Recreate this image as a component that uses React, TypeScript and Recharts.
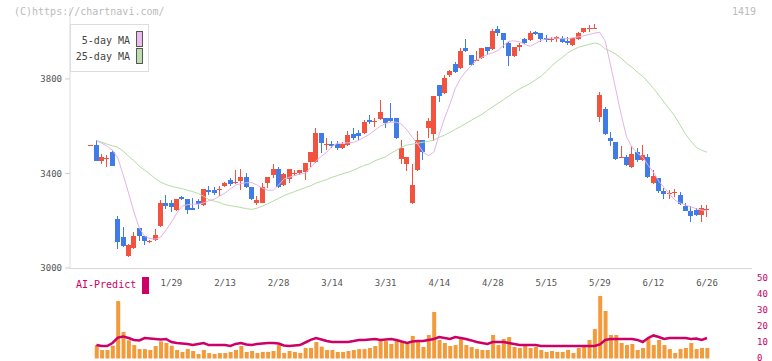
import { ComposedChart, Bar, Line, XAxis, YAxis, ReferenceLine } from "recharts";

const MONO = "'DejaVu Sans Mono', monospace";
const UP = "#f2533f";
const DOWN = "#3f7ce8";

// trading days, 2025
const dates = [
  "1/7", "1/8", "1/9", "1/10", "1/14", "1/15", "1/16", "1/17", "1/20", "1/21",
  "1/22", "1/23", "1/24", "1/27", "1/28", "1/29", "1/30", "1/31", "2/3", "2/4",
  "2/5", "2/6", "2/7", "2/10", "2/12", "2/13", "2/14", "2/17", "2/18", "2/19",
  "2/20", "2/21", "2/25", "2/26", "2/27", "2/28", "3/3", "3/4", "3/5", "3/6",
  "3/7", "3/10", "3/11", "3/12", "3/13", "3/14", "3/17", "3/18", "3/19", "3/21",
  "3/24", "3/25", "3/26", "3/27", "3/28", "3/31", "4/1", "4/2", "4/3", "4/4",
  "4/7", "4/8", "4/9", "4/10", "4/11", "4/14", "4/15", "4/16", "4/17", "4/18",
  "4/21", "4/22", "4/23", "4/24", "4/25", "4/28", "4/30", "5/1", "5/2", "5/7",
  "5/8", "5/9", "5/12", "5/13", "5/14", "5/15", "5/16", "5/19", "5/20", "5/21",
  "5/22", "5/23", "5/26", "5/27", "5/28", "5/29", "5/30", "6/2", "6/3", "6/4",
  "6/5", "6/6", "6/9", "6/10", "6/11", "6/12", "6/13", "6/16", "6/17", "6/18",
  "6/19", "6/20", "6/23", "6/24", "6/25", "6/26",
];

const opens = [
  3518, 3520, 3453, 3463, 3490, 3207, 3131, 3052, 3086, 3169,
  3135, 3112, 3118, 3177, 3275, 3275, 3245, 3301, 3291, 3253,
  3283, 3266, 3332, 3328, 3330, 3346, 3372, 3358, 3367, 3384,
  3342, 3275, 3275, 3359, 3393, 3418, 3351, 3376, 3399, 3401,
  3405, 3448, 3448, 3570, 3522, 3524, 3524, 3507, 3520, 3566,
  3570, 3570, 3625, 3619, 3629, 3634, 3634, 3634, 3460, 3439,
  3275, 3414, 3541, 3591, 3566, 3773, 3739, 3815, 3862, 3845,
  3929, 3900, 3877, 3887, 3933, 3925, 4010, 3993, 3950, 3895,
  3933, 3967, 3963, 3997, 3993, 3972, 3965, 3967, 3972, 3959,
  3942, 3967, 3997, 4012, 4013, 3638, 3672, 3549, 3532, 3467,
  3469, 3427, 3490, 3456, 3469, 3359, 3380, 3325, 3315, 3319,
  3308, 3262, 3241, 3245, 3224, 3247,
];

const highs = [
  3521, 3541, 3484, 3477, 3498, 3220, 3173, 3101, 3152, 3169,
  3135, 3118, 3165, 3287, 3308, 3287, 3293, 3305, 3291, 3296,
  3291, 3336, 3346, 3341, 3346, 3363, 3380, 3414, 3418, 3401,
  3342, 3304, 3359, 3386, 3439, 3427, 3401, 3420, 3414, 3415,
  3446, 3492, 3591, 3572, 3549, 3536, 3536, 3532, 3579, 3591,
  3583, 3625, 3646, 3634, 3710, 3636, 3697, 3636, 3541, 3471,
  3439, 3579, 3543, 3634, 3729, 3775, 3815, 3836, 3870, 3929,
  3967, 3902, 3917, 3931, 3935, 4010, 4022, 3995, 3955, 3935,
  3950, 3972, 4001, 4001, 3995, 3984, 3976, 3980, 3980, 3976,
  3974, 3997, 4016, 4026, 4031, 3743, 3680, 3574, 3534, 3515,
  3477, 3515, 3507, 3520, 3482, 3414, 3382, 3338, 3329, 3334,
  3321, 3275, 3262, 3253, 3266, 3266,
];

const lows = [
  3517, 3453, 3442, 3428, 3432, 3080, 3090, 3048, 3080, 3114,
  3097, 3107, 3115, 3175, 3249, 3235, 3243, 3287, 3227, 3245,
  3249, 3264, 3308, 3307, 3305, 3342, 3348, 3355, 3329, 3340,
  3287, 3266, 3273, 3338, 3380, 3340, 3349, 3359, 3389, 3393,
  3372, 3427, 3446, 3486, 3498, 3507, 3498, 3505, 3518, 3541,
  3541, 3568, 3608, 3596, 3627, 3591, 3619, 3545, 3439, 3410,
  3270, 3412, 3456, 3549, 3536, 3701, 3737, 3807, 3826, 3843,
  3915, 3853, 3875, 3885, 3900, 3923, 3980, 3929, 3853, 3891,
  3917, 3948, 3961, 3984, 3955, 3955, 3955, 3955, 3953, 3942,
  3938, 3965, 3995, 3997, 4010, 3617, 3562, 3515, 3458, 3465,
  3431, 3425, 3448, 3454, 3382, 3355, 3317, 3291, 3291, 3300,
  3266, 3240, 3194, 3220, 3194, 3215,
];

const closes = [
  3520, 3453, 3469, 3465, 3432, 3111, 3094, 3097, 3135, 3135,
  3114, 3116, 3139, 3275, 3262, 3258, 3291, 3291, 3245, 3245,
  3270, 3334, 3320, 3318, 3333, 3359, 3355, 3362, 3384, 3342,
  3291, 3287, 3342, 3384, 3418, 3342, 3397, 3418, 3402, 3414,
  3444, 3490, 3570, 3528, 3526, 3515, 3507, 3524, 3562, 3549,
  3558, 3617, 3617, 3622, 3659, 3612, 3621, 3549, 3507, 3469,
  3351, 3541, 3490, 3621, 3727, 3727, 3803, 3832, 3828, 3917,
  3917, 3857, 3880, 3929, 3917, 4001, 3993, 3963, 3895, 3933,
  3942, 3950, 3993, 3988, 3967, 3963, 3968, 3976, 3955, 3950,
  3972, 3993, 4014, 4015, 4016, 3731, 3566, 3536, 3460, 3470,
  3435, 3482, 3456, 3477, 3384, 3389, 3325, 3313, 3318, 3322,
  3270, 3241, 3220, 3224, 3253, 3250,
];

const ma5 = [
  null, 3539, 3528, 3515, 3498, 3465, 3393, 3317, 3237, 3169,
  3135, 3125, 3122, 3131, 3161, 3194, 3232, 3262, 3268, 3270,
  3270, 3275, 3285, 3291, 3304, 3317, 3334, 3351, 3357, 3361,
  3361, 3351, 3338, 3329, 3329, 3351, 3376, 3384, 3391, 3397,
  3401, 3425, 3452, 3473, 3490, 3515, 3528, 3528, 3530, 3532,
  3541, 3553, 3566, 3583, 3600, 3612, 3617, 3617, 3608, 3583,
  3553, 3524, 3490, 3475, 3490, 3566, 3634, 3693, 3760, 3803,
  3832, 3857, 3879, 3891, 3904, 3910, 3921, 3942, 3959, 3961,
  3957, 3946, 3938, 3950, 3963, 3969, 3974, 3972, 3970, 3970,
  3974, 3978, 3982, 3988, 3994, 3997, 3959, 3857, 3752, 3646,
  3553, 3511, 3486, 3469, 3435, 3405, 3367, 3340, 3313, 3287,
  3275, 3266, 3258, 3251, 3245, 3241,
];

const ma25 = [
  null, 3539, 3532, 3524, 3517, 3511, 3494, 3473, 3454, 3431,
  3414, 3397, 3378, 3363, 3353, 3346, 3340, 3336, 3329, 3323,
  3315, 3304, 3289, 3283, 3277, 3268, 3264, 3260, 3256, 3251,
  3248, 3253, 3262, 3272, 3283, 3294, 3306, 3315, 3323, 3332,
  3340, 3348, 3359, 3367, 3374, 3384, 3391, 3399, 3405, 3414,
  3424, 3434, 3441, 3454, 3462, 3471, 3486, 3498, 3512, 3520,
  3524, 3528, 3532, 3536, 3541, 3553, 3562, 3574, 3587, 3598,
  3612, 3625, 3638, 3650, 3667, 3682, 3697, 3712, 3727, 3743,
  3758, 3769, 3781, 3796, 3811, 3832, 3855, 3874, 3891, 3910,
  3923, 3934, 3940, 3946, 3952, 3946, 3927, 3917, 3904, 3887,
  3866, 3849, 3828, 3811, 3786, 3760, 3731, 3701, 3672, 3642,
  3604, 3566, 3536, 3511, 3498, 3490,
];

const volumes = [
  null, 8.4, 5.3, 5.3, 8.0, 35.9, 16.6, 11.4, 8.4, 5.9,
  5.9, 5.3, 7.8, 10.7, 9.7, 8.0, 5.3, 4.1, 5.9, 4.7,
  2.8, 5.3, 3.4, 2.8, 3.4, 3.4, 4.1, 5.3, 7.8, 4.1,
  4.7, 3.4, 4.1, 4.1, 4.7, 8.4, 3.4, 4.7, 4.1, 3.4,
  6.6, 6.6, 10.3, 7.4, 5.3, 5.3, 4.1, 4.1, 4.7, 5.3,
  5.9, 5.9, 6.6, 7.8, 10.9, 10.9, 9.1, 10.9, 10.3, 9.7,
  14.1, 10.9, 7.2, 14.7, 29.1, 11.6, 9.7, 7.8, 8.4, 12.2,
  8.4, 7.2, 5.9, 5.3, 5.3, 14.7, 8.4, 12.2, 13.4, 7.2,
  6.6, 7.8, 6.6, 7.2, 5.3, 4.1, 4.7, 4.1, 4.1, 5.3,
  3.4, 6.6, 8.4, 11.6, 18.4, 39.1, 29.7, 14.7, 14.7, 9.7,
  8.4, 9.1, 5.3, 6.6, 12.2, 8.4, 11.6, 8.4, 5.9, 3.4,
  5.9, 6.6, 9.7, 5.9, 6.6, 6.6,
];

const aiPredict = [
  null, 8.4, 7.8, 7.8, 9.7, 13.1, 13.8, 12.8, 11.6, 11.3,
  12.8, 12.5, 12.2, 11.9, 12.2, 10.3, 9.7, 9.4, 9.1, 8.4,
  9.1, 9.7, 8.4, 8.4, 8.4, 8.4, 7.8, 9.1, 9.7, 8.8,
  8.4, 9.1, 9.4, 9.7, 9.7, 9.4, 8.1, 7.8, 8.1, 8.4,
  10.0, 11.6, 12.8, 11.9, 10.9, 10.3, 10.3, 10.3, 10.3, 10.9,
  11.6, 11.6, 11.9, 12.2, 11.6, 11.9, 12.2, 11.6, 10.6, 9.7,
  10.6, 10.9, 10.9, 11.6, 12.2, 13.4, 12.8, 12.2, 13.4, 12.8,
  12.2, 11.3, 10.3, 9.7, 9.1, 10.3, 10.3, 10.3, 9.7, 9.1,
  8.4, 8.4, 8.4, 8.4, 7.8, 7.8, 7.8, 7.8, 7.8, 7.8,
  7.8, 7.8, 7.8, 7.8, 7.8, 8.8, 11.6, 12.2, 12.2, 12.2,
  12.2, 12.2, 11.6, 10.3, 12.8, 14.4, 13.4, 12.2, 12.8, 12.8,
  12.8, 12.8, 12.2, 12.5, 11.6, 12.8,
];

const dateTicks = ["1/29", "2/13", "2/28", "3/14", "3/31", "4/14", "4/28", "5/15", "5/29", "6/12", "6/26"];
const priceTicks = [3000, 3400, 3800];
const volumeTicks = [0, 10, 20, 30, 40, 50];
const gridTicks = [0, 1, 2, 3, 4, 5, 6, 7, 8, 9, 10, 11];

const rows = dates.map((date, i) => ({
  date,
  o: opens[i],
  h: highs[i],
  l: lows[i],
  c: closes[i],
  range: [lows[i], highs[i]],
  ma5: ma5[i],
  ma25: ma25[i],
  vol: volumes[i],
  ai: aiPredict[i],
}));

const PAD = { left: 18.4, right: 42.3 };

function Candle(props: any) {
  const { x, y, width, height, payload } = props;
  if (!payload || height == null) return null;
  const top = Math.min(y, y + height);
  const span = Math.abs(height);
  const { o, h, l, c } = payload;
  const toY = (v: number) => (h === l ? top : top + ((h - v) / (h - l)) * span);
  const color = c >= o ? UP : DOWN;
  const cx = x + width / 2;
  const bTop = toY(Math.max(o, c));
  const bBot = toY(Math.min(o, c));
  return (
    <g shapeRendering="crispEdges">
      <line x1={cx} x2={cx} y1={top} y2={top + span} stroke={color} strokeWidth={1} />
      <rect x={x} y={bTop} width={width} height={Math.max(1, bBot - bTop)} fill={color} />
    </g>
  );
}

// date labels, drawn from the top axis of the volume panel
const DateTick = (props: any) => {
  const { x, y, payload } = props;
  return (
    <text x={x} y={y + 7} textAnchor="middle" fontSize={9} fill="#555" fontFamily={MONO}>
      {payload.value}
    </text>
  );
};

// short marks crossing the bottom axis line
const GridTick = (props: any) => {
  const { x, y } = props;
  return <line x1={x} x2={x} y1={y - 3} y2={y + 5} stroke="#d8d8d8" shapeRendering="crispEdges" />;
};

const VolTick = (props: any) => {
  const { x, y, payload } = props;
  return (
    <text x={x} y={y + 2} textAnchor="start" fontSize={9} fill="#cc0066" fontFamily={MONO}>
      {payload.value}
    </text>
  );
};

export default function App() {
  return (
    <div style={{ position: "fixed", left: 0, top: 0, width: 772, height: 361, background: "#fff", overflow: "hidden" }}>
      <div style={{ position: "absolute", left: 0, top: 0 }}>
        <ComposedChart width={772} height={280} data={rows} margin={{ top: 8, right: 20, bottom: 11, left: 0 }}>
          <XAxis dataKey="date" padding={PAD} hide />
          <XAxis
            xAxisId="grid"
            type="number"
            domain={[0, 11]}
            ticks={gridTicks}
            interval={0}
            height={1}
            tickSize={0}
            tickMargin={0}
            tickLine={false}
            tick={<GridTick />}
            axisLine={{ stroke: "#d8d8d8" }}
            allowDataOverflow
          />
          <YAxis
            domain={[3000, 4100]}
            ticks={priceTicks}
            interval={0}
            width={70}
            allowDataOverflow
            tickSize={5}
            tickMargin={3}
            tickLine={{ stroke: "#ccc" }}
            axisLine={{ stroke: "#ddd" }}
            tick={{ fontSize: 9, fill: "#555", fontFamily: MONO }}
          />
          <ReferenceLine y={3000} stroke="#d8d8d8" shapeRendering="crispEdges" />
          <Line dataKey="ma25" stroke="#b5dca5" strokeWidth={1} dot={false} isAnimationActive={false} connectNulls />
          <Line dataKey="ma5" stroke="#e6b3e6" strokeWidth={1} dot={false} isAnimationActive={false} connectNulls />
          <Bar dataKey="range" barSize={5} shape={<Candle />} isAnimationActive={false} />
        </ComposedChart>
      </div>

      <div style={{ position: "absolute", left: 0, top: 262 }}>
        <ComposedChart width={772} height={99} data={rows} margin={{ top: 0, right: 0, bottom: 2.5, left: 70 }}>
          <XAxis
            dataKey="date"
            orientation="top"
            padding={PAD}
            height={16.5}
            ticks={dateTicks}
            interval={0}
            tickSize={0}
            tickMargin={0}
            tickLine={false}
            axisLine={false}
            tick={<DateTick />}
          />
          <YAxis
            orientation="right"
            domain={[0, 50]}
            ticks={volumeTicks}
            interval={0}
            width={20}
            axisLine={false}
            tickLine={false}
            tickSize={0}
            tickMargin={5}
            tick={<VolTick />}
          />
          <Bar dataKey="vol" barSize={4} fill="#f39a3b" isAnimationActive={false} />
          <Line dataKey="ai" stroke="#cc0066" strokeWidth={2.5} dot={false} isAnimationActive={false} />
        </ComposedChart>
      </div>

      <div style={{ position: "absolute", left: 14, top: 6, fontFamily: MONO, fontSize: 10, color: "#bbb" }}>
        (C)https://chartnavi.com/
      </div>
      <div style={{ position: "absolute", right: 16, top: 6, fontFamily: MONO, fontSize: 10, color: "#bbb" }}>
        1419
      </div>

      <div
        style={{
          position: "absolute",
          left: 70,
          top: 24,
          width: 77,
          height: 46,
          border: "1px solid #ddd",
          background: "#fff",
          fontFamily: MONO,
          fontSize: 10,
          color: "#444",
        }}
      >
        <div style={{ position: "absolute", right: 18, top: 10 }}>5-day MA</div>
        <div style={{ position: "absolute", left: 65, top: 6, width: 5, height: 14, border: "1px solid #555", background: "#eebbee" }} />
        <div style={{ position: "absolute", right: 18, top: 26 }}>25-day MA</div>
        <div style={{ position: "absolute", left: 65, top: 23, width: 5, height: 14, border: "1px solid #555", background: "#bbddb0" }} />
      </div>

      <div style={{ position: "absolute", left: 76, top: 279, fontFamily: MONO, fontSize: 10, color: "#cc0066" }}>
        AI-Predict
      </div>
      <div style={{ position: "absolute", left: 142, top: 277, width: 7, height: 17, background: "#cc0066" }} />
    </div>
  );
}
